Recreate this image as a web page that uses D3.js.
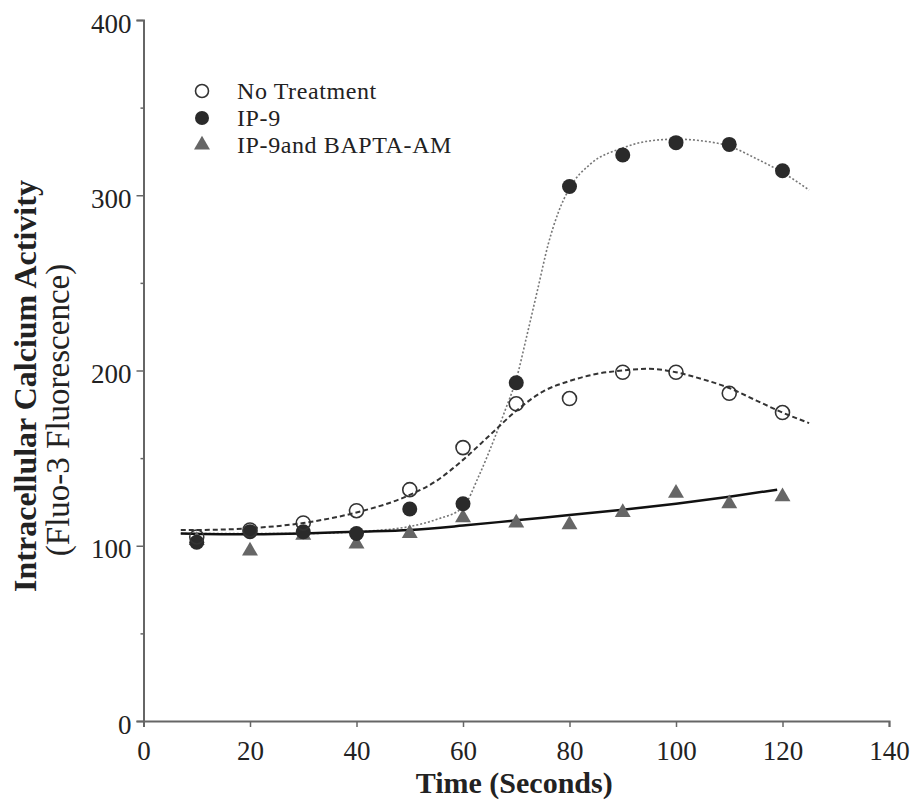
<!DOCTYPE html>
<html>
<head>
<meta charset="utf-8">
<script src="https://cdn.jsdelivr.net/npm/d3@7/dist/d3.min.js"></script>
<style>
  html, body { margin: 0; padding: 0; background: #fff; }
  svg { display: block; }
  text { font-family: "Liberation Serif", "Times New Roman", "DejaVu Serif", serif; }
</style>
</head>
<body>
<svg id="chart" width="914" height="804"></svg>
<script>
// ---- data ----
const time = [10, 20, 30, 40, 50, 60, 70, 80, 90, 100, 110, 120];
const noTreatment = [105, 109, 113, 120, 132, 156, 181, 184, 199, 199, 187, 176];
const ip9 = [102, 108, 108, 107, 121, 124, 193, 305, 323, 330, 329, 314];
const ip9Bapta = [103, 97, 106, 101, 107, 116, 113, 112, 119, 130, 124, 128];

// fitted curves: [time, value]
const fitNoTreatment = [[7,109],[10,109],[20,110],[30,113],[40,119],[50,129],[55,137],[60,149],[65,163],[70,177],[75,188],[80,194],[85,198],[90,200],[95,201],[100,199],[105,195],[110,190],[115,183],[120,176],[125,170]];
const fitIp9 = [[7,107],[20,107],[30,107],[40,108],[50,111],[55,115],[60,122],[63,140],[66,162],[68,178],[70,195],[72,220],[74,246],[76,272],[78,291],[80,304],[84,318],[90,327],[95,331],[100,332],[105,331],[110,328],[115,321],[120,313],[125,303]];
const fitBapta = [[7,107],[20,106.5],[30,107],[40,108],[50,109],[60,111.5],[70,114.5],[80,117.5],[90,120.5],[100,124],[110,128],[119,132]];

const xTicks = [0, 20, 40, 60, 80, 100, 120, 140];
const yTicks = [0, 100, 200, 300, 400];
const yMinorTicks = [50, 150, 250, 350];
const legendLabels = ["No Treatment", "IP-9", "IP-9and BAPTA-AM"];
const xTitle = "Time (Seconds)";
const yTitle1 = "Intracellular Calcium Activity";
const yTitle2 = "(Fluo-3 Fluorescence)";

// ---- drawing ----
const svg = d3.select("#chart");
const x = d3.scaleLinear().domain([0, 140]).range([143.5, 889]);
const y = d3.scaleLinear().domain([0, 400]).range([721, 20]);

const axisColor = "#666";
const textColor = "#222";

// x axis
const gx = svg.append("g").attr("transform", `translate(0,${y(0)})`)
  .call(d3.axisBottom(x).tickValues(xTicks).tickSize(6).tickPadding(14).tickFormat(d3.format("d")));
// y axis
const gy = svg.append("g").attr("transform", `translate(${x(0)},0)`)
  .call(d3.axisLeft(y).tickValues(yTicks).tickSize(7).tickPadding(5).tickFormat(d3.format("d")));
svg.append("g").attr("transform", `translate(${x(0)},0)`)
  .call(d3.axisLeft(y).tickValues(yMinorTicks).tickSize(3).tickFormat(""))
  .call(g => g.select(".domain").remove());

svg.selectAll(".domain").attr("stroke", axisColor).attr("stroke-width", 2);
svg.selectAll(".tick line").attr("stroke", axisColor).attr("stroke-width", 1.5);
svg.selectAll(".tick text").attr("fill", textColor).style("font-size", "27px")
  .style("font-family", '"Liberation Serif", "Times New Roman", serif');
gy.selectAll(".tick text").attr("dy", "0.45em");

// titles
svg.append("text").attr("x", (x(0) + x(140)) / 2 - 2).attr("y", 793)
  .attr("text-anchor", "middle").attr("fill", textColor)
  .style("font-size", "30px").style("font-weight", "bold").text(xTitle);
svg.append("text").attr("transform", `translate(36,386) rotate(-90)`)
  .attr("text-anchor", "middle").attr("fill", textColor)
  .style("font-size", "32px").style("font-weight", "bold").text(yTitle1);
svg.append("text").attr("transform", `translate(69,410) rotate(-90)`)
  .attr("text-anchor", "middle").attr("fill", textColor)
  .style("font-size", "33px").text(yTitle2);

// curves
const line = d3.line().x(d => x(d[0])).y(d => y(d[1])).curve(d3.curveMonotoneX);
svg.append("path").datum(fitIp9).attr("d", line)
  .attr("fill", "none").attr("stroke", "#777").attr("stroke-width", 1.6).attr("stroke-dasharray", "2,2");
svg.append("path").datum(fitNoTreatment).attr("d", line)
  .attr("fill", "none").attr("stroke", "#333").attr("stroke-width", 2).attr("stroke-dasharray", "5,3");
svg.append("path").datum(fitBapta).attr("d", line)
  .attr("fill", "none").attr("stroke", "#111").attr("stroke-width", 2.5);

// markers
const tri = d3.symbol().type(d3.symbolTriangle).size(110);
svg.append("g").selectAll("path").data(time).join("path")
  .attr("d", tri).attr("transform", (d, i) => `translate(${x(d)},${y(ip9Bapta[i])})`)
  .attr("fill", "#666");
svg.append("g").selectAll("circle").data(time).join("circle")
  .attr("cx", d => x(d)).attr("cy", (d, i) => y(ip9[i])).attr("r", 7.5)
  .attr("fill", "#2a2a2a");
svg.append("g").selectAll("circle").data(time).join("circle")
  .attr("cx", d => x(d)).attr("cy", (d, i) => y(noTreatment[i])).attr("r", 7)
  .attr("fill", "none").attr("stroke", "#333").attr("stroke-width", 1.6);

// legend
const leg = svg.append("g");
const legRows = [91, 118, 145];
leg.append("circle").attr("cx", 202).attr("cy", legRows[0]).attr("r", 6.5)
  .attr("fill", "#fff").attr("stroke", "#333").attr("stroke-width", 1.6);
leg.append("circle").attr("cx", 202).attr("cy", legRows[1]).attr("r", 7)
  .attr("fill", "#2a2a2a");
leg.append("path").attr("d", tri).attr("transform", `translate(202,${legRows[2]})`)
  .attr("fill", "#666");
leg.selectAll("text").data(legendLabels).join("text")
  .attr("x", 237).attr("y", (d, i) => legRows[i] + 8)
  .attr("fill", textColor).style("font-size", "24px").style("letter-spacing", "0.6px").text(d => d);
</script>
</body>
</html>
